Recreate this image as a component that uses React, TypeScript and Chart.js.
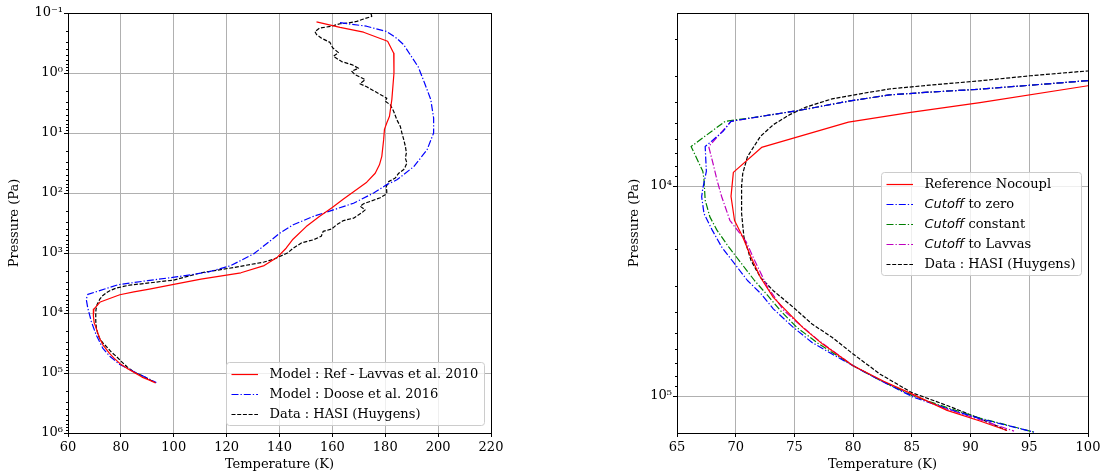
import React, { useEffect, useRef } from "react";
import { Chart, registerables } from "chart.js";

Chart.register(...registerables);

const SERIF = "'DejaVu Serif', 'Liberation Serif', serif";
const SANS = "'DejaVu Sans', sans-serif";

// ---------------- DATA ----------------
// Reference model (Lavvas et al. 2010 / Reference Nocoupl): temperature (K), pressure (Pa)
const refTemp = [154, 162.9, 171.8, 180.9, 183.2, 183.3, 182.5, 181.6, 180.6, 179.7, 179.4, 178.7, 177.8, 176.2, 173, 169.2, 164.2, 159.7, 155.2, 150.1, 145.1, 142.5, 139.2, 134.2, 125.4, 110.3, 100, 90.8, 84.9, 79.6, 72.2, 69.8, 69.6, 69.9, 70.6, 71.3, 72.1, 73.2, 74.3, 75.7, 77.4, 80, 82.6, 85, 88, 90.8, 93.1];
const refPres = [0.141, 0.174, 0.209, 0.295, 0.468, 1.0, 2.75, 5.25, 6.76, 8.71, 12.9, 24.5, 33.9, 46.8, 66.1, 87.1, 126, 178, 245, 363, 589, 832, 1175, 1622, 2138, 2723, 3330, 4010, 4460, 4960, 6550, 8610, 11200, 14600, 17500, 21800, 27200, 33900, 39200, 47100, 56600, 71800, 85100, 97700, 117000, 131500, 146000];

// Doose et al. 2016
const dooseTemp = [162.9, 172.9, 180.6, 184.3, 187, 192.5, 194.9, 197.2, 198.3, 198.3, 195.8, 190.8, 184.4, 180.6, 175.6, 168, 160.4, 152.8, 145.2, 140.1, 136.7, 130.4, 121.6, 112.8, 101.5, 90.2, 78.9, 67.5, 66.9, 67.5, 68.8, 70.7, 73.2, 75.8, 79.6, 84.6, 89.7, 93.4];
const doosePres = [0.145, 0.166, 0.204, 0.263, 0.339, 0.794, 1.48, 2.75, 5.62, 10, 19.1, 36.3, 60.3, 72.4, 100, 148, 191, 245, 339, 468, 617, 1023, 1622, 2089, 2483, 2884, 3388, 4898, 5888, 8318, 13800, 23400, 38900, 52500, 72400, 93300, 120000, 144500];

// HASI (Huygens) data
const hasiTemp = [174.6, 174.9, 171.8, 169.2, 165.4, 162.9, 159.7, 155.2, 153.4, 154, 155.9, 159.1, 160.1, 162.3, 160.4, 163.5, 167.3, 169.9, 167.3, 168.6, 172.4, 170.4, 173, 176.2, 178.1, 180.6, 180, 181.9, 183.2, 184.4, 185.7, 186.3, 187, 187.6, 188, 187.6, 188.2, 187.6, 187, 185.1, 183.8, 181.3, 180.4, 180.6, 180, 178.1, 174.3, 171.8, 170.5, 172.4, 171.1, 168, 164.2, 161.6, 159.7, 156.5, 155.8, 152.8, 148.4, 145.2, 143, 138, 134.2, 122.9, 110.3, 100, 95.1, 90.8, 86.5, 83.2, 81, 78.2, 76, 74.6, 73.2, 72.1, 71.0, 70.6, 70.5, 70.5, 70.7, 71.3, 72.1, 73.2, 74.9, 76.5, 78.2, 80, 82.3, 85, 88, 90.8, 93.1];
const hasiPres = [0.102, 0.114, 0.126, 0.138, 0.148, 0.151, 0.166, 0.178, 0.204, 0.229, 0.263, 0.309, 0.380, 0.457, 0.525, 0.646, 0.724, 0.832, 0.933, 1.07, 1.29, 1.51, 1.70, 2.04, 2.29, 2.63, 2.95, 3.39, 4.37, 6.03, 7.76, 10, 12.9, 16.6, 21.4, 26.3, 31.6, 36.3, 40.7, 46.8, 56.2, 64.6, 77.6, 97.7, 107, 120, 138, 151, 166, 191, 214, 263, 288, 339, 398, 437, 525, 603, 676, 832, 1000, 1259, 1413, 1738, 2138, 2830, 2985, 3155, 3311, 3443, 3606, 3846, 4207, 4571, 5105, 5808, 7244, 8710, 10000, 13500, 17500, 22600, 27200, 31500, 37800, 45400, 52500, 63100, 78700, 96400, 110900, 128200, 145900];

// Cutoff to zero
const cutZeroTemp = [100, 90.8, 86.5, 83.1, 79.6, 75.4, 72.1, 69.6, 68.9, 67.4, 67.5, 67.2, 67.1, 67.3, 68.0, 68.8, 69.9, 71.0, 72.1, 73.2, 74.9, 76.5, 78.2, 80, 82.3, 85.1, 88.0, 90.8, 95.4];
const cutZeroPres = [3148, 3459, 3573, 3681, 3945, 4365, 4667, 4920, 5508, 6486, 8511, 10260, 11250, 13520, 16220, 19500, 23440, 28180, 32360, 38460, 47100, 55590, 63100, 71780, 84140, 101160, 114800, 128200, 148600];

// Cutoff constant
const cutConstTemp = [100, 90.8, 86.5, 83.1, 79.6, 75.4, 72.1, 69.1, 66.2, 67.2, 67.3, 67.4, 67.8, 68.4, 69.4, 70.5, 71.6, 72.7, 73.8, 75.2, 77.1, 80, 82.3, 85.1, 88, 90.8, 95.4];
const cutConstPres = [3148, 3459, 3573, 3681, 3945, 4365, 4667, 4920, 6486, 8511, 9333, 11670, 14030, 16220, 19500, 23440, 28180, 33110, 39170, 47100, 56620, 71780, 84140, 100000, 113500, 127350, 148600];

// Cutoff to Lavvas
const cutLavTemp = [100, 90.8, 86.5, 83.1, 79.6, 75.4, 72.1, 69.6, 67.7, 68.1, 68.4, 68.8, 69.5, 70.9, 71.6, 72.7, 74.1, 75.4, 77.1, 80, 82.5, 85, 88, 90.8, 93.7];
const cutLavPres = [3148, 3459, 3573, 3681, 3945, 4365, 4667, 4920, 6486, 7943, 9333, 11220, 14560, 18450, 22590, 30200, 39170, 45390, 54580, 71780, 85110, 98860, 115300, 129700, 146900];

// Axis ranges / ticks
const leftXRange = [60, 220];
const leftXStep = 20;
const leftYRange = [0.1, 1e6];
const rightXRange = [65, 100];
const rightXStep = 5;
const rightYRange = [1500, 150000];

// Legend labels
const leftLabels = ["Model : Ref - Lavvas et al. 2010", "Model : Doose et al. 2016", "Data : HASI (Huygens)"];
const rightLabels: [string, string][] = [
  ["", "Reference Nocoupl"],
  ["Cutoff", " to zero"],
  ["Cutoff", " constant"],
  ["Cutoff", " to Lavvas"],
  ["", "Data : HASI (Huygens)"],
];

// ---------------- HELPERS ----------------
const SOLID: number[] = [];
const DASHED = [4, 1.7];
const DASHDOT = [7, 2, 1.3, 2];

const toPts = (t: number[], p: number[]) => t.map((x, i) => ({ x, y: p[i] }));

const isPow10 = (v: number) => {
  const e = Math.log10(v);
  return Math.abs(e - Math.round(e)) < 1e-6;
};

const SUP: Record<string, string> = { "-": "\u207B", "0": "\u2070", "1": "\u00B9", "2": "\u00B2", "3": "\u00B3", "4": "\u2074", "5": "\u2075", "6": "\u2076", "7": "\u2077", "8": "\u2078", "9": "\u2079" };
const fmtPow = (v: number) => {
  if (!isPow10(v)) return "";
  const r = Math.round(Math.log10(v));
  return "10" + String(r).split("").map((c) => SUP[c]).join("");
};

const logTicks = (lo: number, hi: number) => {
  const out: number[] = [];
  for (let e = Math.floor(Math.log10(lo)); e <= Math.ceil(Math.log10(hi)); e++) {
    for (let m = 1; m <= 9; m++) {
      const v = parseFloat((m * Math.pow(10, e)).toPrecision(6));
      if (v >= lo * 0.9999 && v <= hi * 1.0001) out.push(v);
    }
  }
  return out;
};

type Part = { text: string; italic?: boolean };
type LegItem = { parts: Part[]; color: string; dash: number[] };

function makeDecor(id: string, items: LegItem[], loc: "lower right" | "center right") {
  return {
    id,
    afterDraw(chart: any) {
      const { ctx, chartArea: a } = chart;
      ctx.save();
      // frame
      ctx.strokeStyle = "#000";
      ctx.lineWidth = 1;
      ctx.setLineDash([]);
      const L = Math.round(a.left) + 0.5, T = Math.round(a.top) + 0.5;
      const R = Math.round(a.right) + 0.5, B = Math.round(a.bottom) + 0.5;
      ctx.strokeRect(L, T, R - L, B - T);
      // minor y ticks
      const ys = chart.scales.y;
      ys.ticks.forEach((t: any) => {
        if (!isPow10(t.value)) {
          const py = Math.round(ys.getPixelForValue(t.value)) + 0.5;
          ctx.beginPath();
          ctx.moveTo(L - 2.5, py);
          ctx.lineTo(L, py);
          ctx.stroke();
        }
      });
      // legend
      const fSerif = `13px ${SERIF}`;
      const fIt = `italic 13px ${SANS}`;
      let maxW = 0;
      for (const it of items) {
        let w = 0;
        for (const p of it.parts) {
          ctx.font = p.italic ? fIt : fSerif;
          w += ctx.measureText(p.text).width;
        }
        maxW = Math.max(maxW, w);
      }
      const rowH = 20;
      const boxW = Math.round(43.5 + maxW + 6);
      const boxH = rowH * items.length + 3;
      const x = Math.round(a.right - 7.5 - boxW) + 0.5;
      const y = loc === "lower right"
        ? Math.round(a.bottom - 8 - boxH) + 0.5
        : Math.round((a.top + a.bottom) / 2 - boxH / 2) + 0.5;
      ctx.beginPath();
      if (ctx.roundRect) ctx.roundRect(x, y, boxW, boxH, 3);
      else ctx.rect(x, y, boxW, boxH);
      ctx.fillStyle = "rgba(255,255,255,0.8)";
      ctx.fill();
      ctx.strokeStyle = "#cccccc";
      ctx.lineWidth = 1;
      ctx.stroke();
      items.forEach((it, i) => {
        const cy = Math.round(y + 11 + i * rowH) + 0.5;
        ctx.beginPath();
        ctx.setLineDash(it.dash);
        ctx.strokeStyle = it.color;
        ctx.lineWidth = 1.2;
        ctx.moveTo(x + 5, cy);
        ctx.lineTo(x + 31.5, cy);
        ctx.stroke();
        ctx.setLineDash([]);
        let tx = x + 43;
        ctx.fillStyle = "#000";
        ctx.textBaseline = "middle";
        ctx.textAlign = "left";
        for (const p of it.parts) {
          ctx.font = p.italic ? fIt : fSerif;
          ctx.fillText(p.text, tx, cy);
          tx += ctx.measureText(p.text).width;
        }
      });
      ctx.restore();
    },
  };
}

const font = { family: SERIF, size: 13 };

function ds(label: string, t: number[], p: number[], color: string, dash: number[]) {
  return {
    label,
    data: toPts(t, p),
    borderColor: color,
    backgroundColor: color,
    borderWidth: 1.2,
    borderDash: dash,
    pointRadius: 0,
    pointHoverRadius: 0,
    fill: false,
    tension: 0,
    borderJoinStyle: "round" as const,
  };
}

function makeOptions(xr: number[], xstep: number, yr: number[], yWidth: number, padRight: number) {
  const yTicks = logTicks(yr[0], yr[1]);
  return {
    animation: false,
    responsive: false,
    maintainAspectRatio: false,
    layout: { padding: { left: 0, top: 13, right: padRight, bottom: 0 } },
    plugins: { legend: { display: false }, tooltip: { enabled: false } },
    scales: {
      x: {
        type: "linear",
        min: xr[0],
        max: xr[1],
        afterFit: (s: any) => { s.height = 42; },
        ticks: { stepSize: xstep, color: "#000", font, padding: 3, autoSkip: false, maxRotation: 0 },
        grid: { color: "#b0b0b0", tickColor: "#000", tickLength: 4, lineWidth: 1 },
        border: { color: "#000", width: 1 },
        title: { display: true, text: "Temperature (K)", color: "#000", font, padding: { top: 0, bottom: 3 } },
      },
      y: {
        type: "logarithmic",
        reverse: true,
        min: yr[0],
        max: yr[1],
        afterFit: (s: any) => { s.width = yWidth; },
        afterBuildTicks: (s: any) => { s.ticks = yTicks.map((v) => ({ value: v })); },
        ticks: { autoSkip: false, color: "#000", font, padding: 1, callback: (v: any) => fmtPow(Number(v)) },
        grid: {
          color: (c: any) => (c.tick && isPow10(c.tick.value) ? "#b0b0b0" : "rgba(0,0,0,0)"),
          tickColor: (c: any) => (c.tick && isPow10(c.tick.value) ? "#000" : "rgba(0,0,0,0)"),
          tickLength: 4,
          lineWidth: 1,
        },
        border: { color: "#000", width: 1 },
        title: { display: true, text: "Pressure (Pa)", color: "#000", font, padding: { top: 7, bottom: 0 } },
      },
    },
  } as any;
}

export default function App() {
  const leftRef = useRef<HTMLCanvasElement | null>(null);
  const rightRef = useRef<HTMLCanvasElement | null>(null);

  useEffect(() => {
    const leftItems: LegItem[] = [
      { parts: [{ text: leftLabels[0] }], color: "#ff0000", dash: SOLID },
      { parts: [{ text: leftLabels[1] }], color: "#0000ff", dash: DASHDOT },
      { parts: [{ text: leftLabels[2] }], color: "#000000", dash: DASHED },
    ];
    const rightColors = ["#ff0000", "#0000ff", "#008000", "#bf00bf", "#000000"];
    const rightDashes = [SOLID, DASHDOT, DASHDOT, DASHDOT, DASHED];
    const rightItems: LegItem[] = rightLabels.map((l, i) => ({
      parts: l[0] ? [{ text: l[0], italic: true }, { text: l[1] }] : [{ text: l[1] }],
      color: rightColors[i],
      dash: rightDashes[i],
    }));

    const left = new Chart(leftRef.current as HTMLCanvasElement, {
      type: "line",
      data: {
        datasets: [
          ds(leftLabels[0], refTemp, refPres, "#ff0000", SOLID),
          ds(leftLabels[1], dooseTemp, doosePres, "#0000ff", DASHDOT),
          ds(leftLabels[2], hasiTemp, hasiPres, "#000000", DASHED),
        ],
      } as any,
      options: makeOptions(leftXRange, leftXStep, leftYRange, 68, 68),
      plugins: [makeDecor("decorLeft", leftItems, "lower right")],
    });

    const right = new Chart(rightRef.current as HTMLCanvasElement, {
      type: "line",
      data: {
        datasets: [
          ds(rightLabels[0].join(""), refTemp, refPres, rightColors[0], SOLID),
          ds(rightLabels[1].join(""), cutZeroTemp, cutZeroPres, rightColors[1], DASHDOT),
          ds(rightLabels[2].join(""), cutConstTemp, cutConstPres, rightColors[2], DASHDOT),
          ds(rightLabels[3].join(""), cutLavTemp, cutLavPres, rightColors[3], DASHDOT),
          ds(rightLabels[4].join(""), hasiTemp, hasiPres, rightColors[4], DASHED),
        ],
      } as any,
      options: makeOptions(rightXRange, rightXStep, rightYRange, 57, 30),
      plugins: [makeDecor("decorRight", rightItems, "center right")],
    });

    return () => {
      left.destroy();
      right.destroy();
    };
  }, []);

  return (
    <div style={{ position: "fixed", left: 0, top: 0, width: 1118, height: 475, background: "#fff" }}>
      <canvas ref={leftRef} width={559} height={475} style={{ position: "absolute", left: 0, top: 0, width: 559, height: 475 }} />
      <canvas ref={rightRef} width={498} height={475} style={{ position: "absolute", left: 620, top: 0, width: 498, height: 475 }} />
    </div>
  );
}
